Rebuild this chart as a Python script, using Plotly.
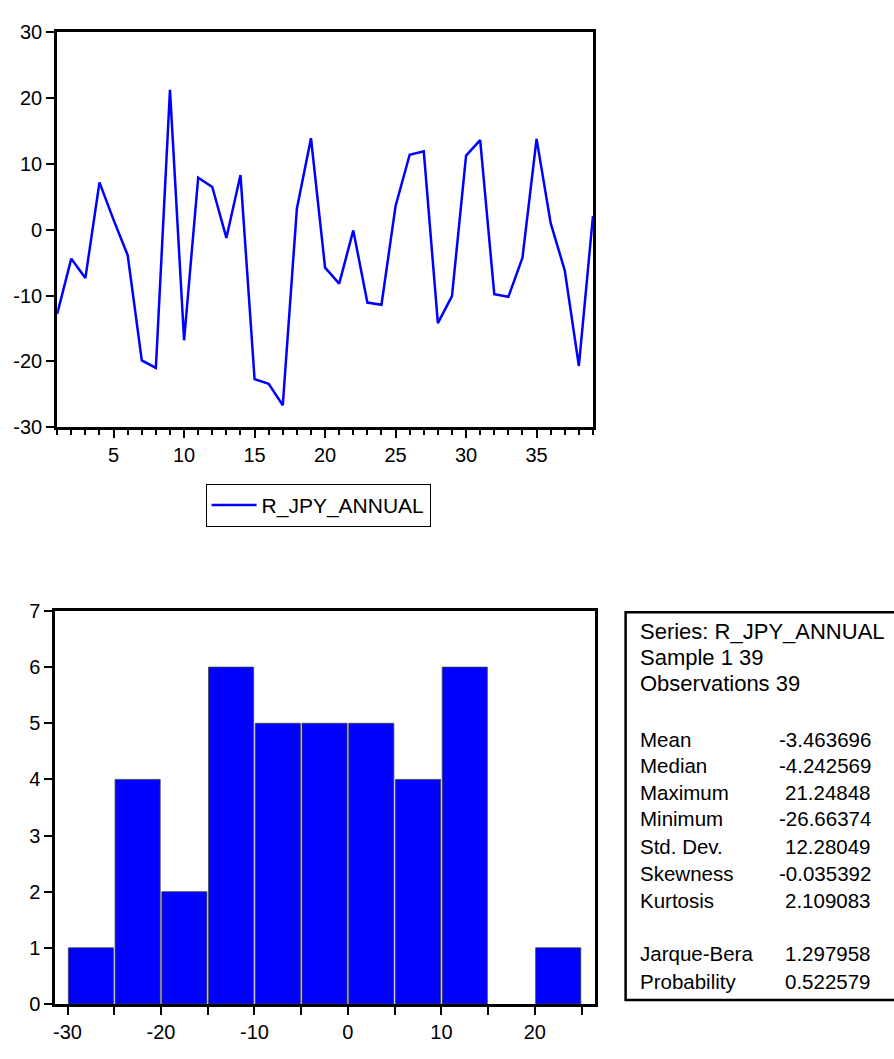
import plotly.graph_objects as go

# Annual JPY returns, observations 1..39
obs = list(range(1, 40))
r_jpy_annual = [
    -12.8, -4.4, -7.35, 7.2, 1.5, -3.87, -19.85, -21.0, 21.24848, -16.8,
    7.9, 6.5, -1.25, 8.3, -22.7, -23.4, -26.66374, 3.2, 13.9, -5.76,
    -8.2, -0.1, -11.07, -11.4, 3.6, 11.4, 11.9, -14.2, -10.1, 11.25,
    13.6, -9.8, -10.2, -4.242569, 13.8, 1.0, -6.2, -20.7, 2.1,
]

# Histogram bins
bin_start, bin_end, bin_size = -30, 25, 5

# Descriptive statistics table
header_lines = ["Series: R_JPY_ANNUAL", "Sample 1 39", "Observations 39"]
stat_names = ["Mean", "Median", "Maximum", "Minimum", "Std. Dev.",
              "Skewness", "Kurtosis", "Jarque-Bera", "Probability"]
stat_values = ["-3.463696", "-4.242569", "21.24848", "-26.66374", "12.28049",
               "-0.035392", "2.109083", "1.297958", "0.522579"]

# Tick labels (plain hyphen-minus)
line_xticks = [5, 10, 15, 20, 25, 30, 35]
line_yticks = [-30, -20, -10, 0, 10, 20, 30]
hist_xticks = [-30, -25, -20, -15, -10, -5, 0, 5, 10, 15, 20, 25]
hist_xlabels = [str(v) if v % 10 == 0 else "" for v in hist_xticks]
hist_yticks = [0, 1, 2, 3, 4, 5, 6, 7]

W, H = 894, 1059
FONT = "Liberation Sans, Arial, sans-serif"
BLUE = "#0000FF"


def px(x):
    """Pixel column -> paper fraction."""
    return x / W


def py(y):
    """Pixel row (from top) -> paper fraction."""
    return 1 - y / H


fig = go.Figure()

# Line chart of the series
fig.add_trace(go.Scatter(
    x=obs, y=r_jpy_annual, mode="lines", name="R_JPY_ANNUAL",
    line=dict(color=BLUE, width=2.5), xaxis="x", yaxis="y",
))

# Histogram of the same series
fig.add_trace(go.Histogram(
    x=r_jpy_annual, xbins=dict(start=bin_start, end=bin_end, size=bin_size),
    marker=dict(color=BLUE, line=dict(color="#404040", width=0.8)),
    showlegend=False, xaxis="x2", yaxis="y2",
))

axis_common = dict(
    showline=True, linecolor="black", linewidth=3, mirror=True,
    showgrid=False, zeroline=False, ticks="outside", tickcolor="black",
    tickwidth=2, tickfont=dict(family=FONT, size=20, color="black"),
    fixedrange=True,
)

fig.update_layout(
    width=W, height=H,
    margin=dict(l=0, r=0, t=0, b=0),
    paper_bgcolor="white", plot_bgcolor="white",
    font=dict(family=FONT, size=20, color="black"),
    bargap=0.035,
    xaxis=dict(
        axis_common, domain=[px(55.3), px(592.3)], range=[1, 39],
        tickvals=line_xticks, ticktext=[str(v) for v in line_xticks],
        ticklen=8, anchor="y",
        minor=dict(dtick=1, tick0=0, ticks="outside", ticklen=5,
                   tickwidth=2, tickcolor="black"),
    ),
    yaxis=dict(
        axis_common, domain=[py(425), py(21.7)], range=[-30, 30],
        tickvals=line_yticks, ticktext=[str(v) for v in line_yticks],
        ticklen=8, anchor="x",
    ),
    xaxis2=dict(
        axis_common, domain=[px(53.5), px(594)], range=[-31.3, 26.4],
        tickvals=hist_xticks, ticktext=hist_xlabels, ticklen=8, anchor="y2",
    ),
    yaxis2=dict(
        axis_common, domain=[py(1014), py(612.7)], range=[0, 7],
        tickvals=hist_yticks, ticktext=[str(v) for v in hist_yticks],
        ticklen=8, anchor="x2",
    ),
    showlegend=True,
    legend=dict(
        x=px(204), y=py(483), xanchor="left", yanchor="top",
        bordercolor="black", borderwidth=1, bgcolor="white",
        itemwidth=45,
        font=dict(family=FONT, size=21, color="black"),
    ),
)

# Statistics panel frame (runs off the right edge)
fig.add_shape(
    type="rect", xref="paper", yref="paper",
    x0=px(625), x1=1.05, y0=py(1010), y1=py(614),
    line=dict(color="black", width=2.5), fillcolor="rgba(0,0,0,0)",
)

header_rows = [634, 660, 687]
stat_rows = [744, 771, 798, 825, 853, 881, 908, 963, 991]

for text, yrow in zip(header_lines, header_rows):
    fig.add_annotation(
        x=px(637), y=py(yrow), xref="paper", yref="paper", text=text,
        showarrow=False, xanchor="left", yanchor="middle",
        font=dict(family=FONT, size=22, color="black"),
    )

for name, value, yrow in zip(stat_names, stat_values, stat_rows):
    fig.add_annotation(
        x=px(637), y=py(yrow), xref="paper", yref="paper", text=name,
        showarrow=False, xanchor="left", yanchor="middle",
        font=dict(family=FONT, size=20.5, color="black"),
    )
    fig.add_annotation(
        x=px(873), y=py(yrow), xref="paper", yref="paper", text=value,
        showarrow=False, xanchor="right", yanchor="middle",
        font=dict(family=FONT, size=20.5, color="black"),
    )

fig.write_html("out.html")
